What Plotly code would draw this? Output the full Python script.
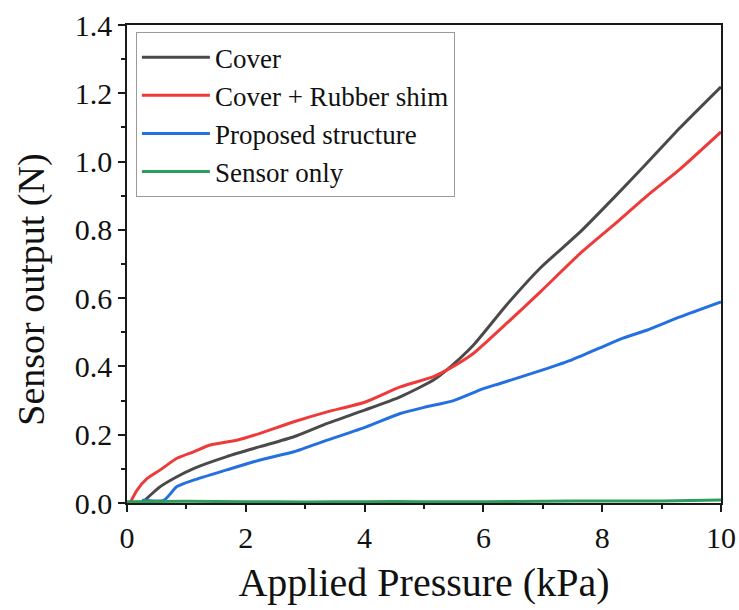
import plotly.graph_objects as go

# ---- data ----
cover_x = [0.25, 0.56, 0.84, 1.12, 1.68, 2.24, 2.81, 3.37, 4.0, 4.6, 5.16, 5.38, 5.83, 6.39, 6.95, 7.63, 8.19, 8.75, 9.31, 10.0]
cover_y = [0.0, 0.048, 0.077, 0.101, 0.136, 0.165, 0.194, 0.233, 0.272, 0.311, 0.36, 0.389, 0.462, 0.58, 0.687, 0.794, 0.893, 0.995, 1.099, 1.219]

shim_x = [0.05, 0.17, 0.34, 0.56, 0.84, 1.12, 1.4, 1.85, 2.24, 2.81, 3.37, 4.0, 4.6, 5.16, 5.38, 5.83, 6.39, 6.95, 7.63, 8.19, 8.75, 9.31, 10.0]
shim_y = [0.0, 0.038, 0.072, 0.097, 0.131, 0.15, 0.17, 0.184, 0.204, 0.238, 0.267, 0.295, 0.34, 0.37, 0.389, 0.438, 0.526, 0.617, 0.731, 0.814, 0.899, 0.978, 1.087]

prop_x = [0.25, 0.62, 0.84, 1.12, 1.68, 2.24, 2.81, 3.37, 4.03, 4.6, 5.0, 5.5, 6.0, 6.28, 7.0, 7.5, 8.35, 8.75, 9.31, 10.0]
prop_y = [0.008, 0.008, 0.048, 0.067, 0.097, 0.126, 0.15, 0.184, 0.223, 0.262, 0.28, 0.30, 0.335, 0.35, 0.39, 0.42, 0.483, 0.506, 0.545, 0.589]

sensor_x = [0, 1, 2, 3, 4, 5, 6, 7, 8, 9, 10]
sensor_y = [0.004, 0.005, 0.004, 0.003, 0.004, 0.004, 0.004, 0.005, 0.006, 0.006, 0.009]

series = [
    ("Cover", cover_x, cover_y, "#4a4a4a"),
    ("Cover + Rubber shim", shim_x, shim_y, "#ef3a3a"),
    ("Proposed structure", prop_x, prop_y, "#2470e0"),
    ("Sensor only", sensor_x, sensor_y, "#2e9d5c"),
]

FONT = "Liberation Serif, Times New Roman, serif"

fig = go.Figure()
for name, xs, ys, col in series:
    fig.add_trace(go.Scatter(x=xs, y=ys, mode="lines", name=name,
                             line=dict(color=col, width=3, shape="spline", smoothing=0.6)))

axis_common = dict(
    showline=True, linecolor="#1a1a1a", linewidth=1.6, mirror=True,
    ticks="outside", ticklen=7, tickwidth=1.5, tickcolor="#1a1a1a",
    showgrid=False, zeroline=False, automargin=False,
    tickfont=dict(family=FONT, size=30, color="#111"),
)

fig.update_xaxes(range=[0, 10], tickvals=[0, 2, 4, 6, 8, 10],
                 minor=dict(ticks="outside", ticklen=4, tickwidth=1.5, tickcolor="#1a1a1a", dtick=1, tick0=0),
                 title=dict(text="Applied Pressure (kPa)", font=dict(family=FONT, size=40, color="#111"), standoff=15),
                 **axis_common)
fig.update_yaxes(range=[0, 1.4], tickvals=[0, 0.2, 0.4, 0.6, 0.8, 1.0, 1.2, 1.4], tickformat=".1f",
                 minor=dict(ticks="outside", ticklen=4, tickwidth=1.5, tickcolor="#1a1a1a", dtick=0.1, tick0=0),
                 **axis_common)

fig.update_layout(
    width=739, height=610,
    margin=dict(l=127, r=18, t=25, b=107),
    paper_bgcolor="white", plot_bgcolor="white",
    font=dict(family=FONT, color="#111"),
    showlegend=True,
    legend=dict(x=0.015, y=0.985, xanchor="left", yanchor="top",
                bgcolor="white", bordercolor="#9a9a9a", borderwidth=1,
                font=dict(family=FONT, size=27, color="#111"),
                tracegroupgap=0, itemwidth=68),
    annotations=[dict(text="Sensor output (N)", textangle=-90, xref="paper", yref="paper",
                      x=-0.161, y=0.447, xanchor="center", yanchor="middle", showarrow=False,
                      font=dict(family=FONT, size=38, color="#111"))],
)

fig.write_html("out.html", post_script="document.body.style.margin='0';",
               config={"displayModeBar": False})
